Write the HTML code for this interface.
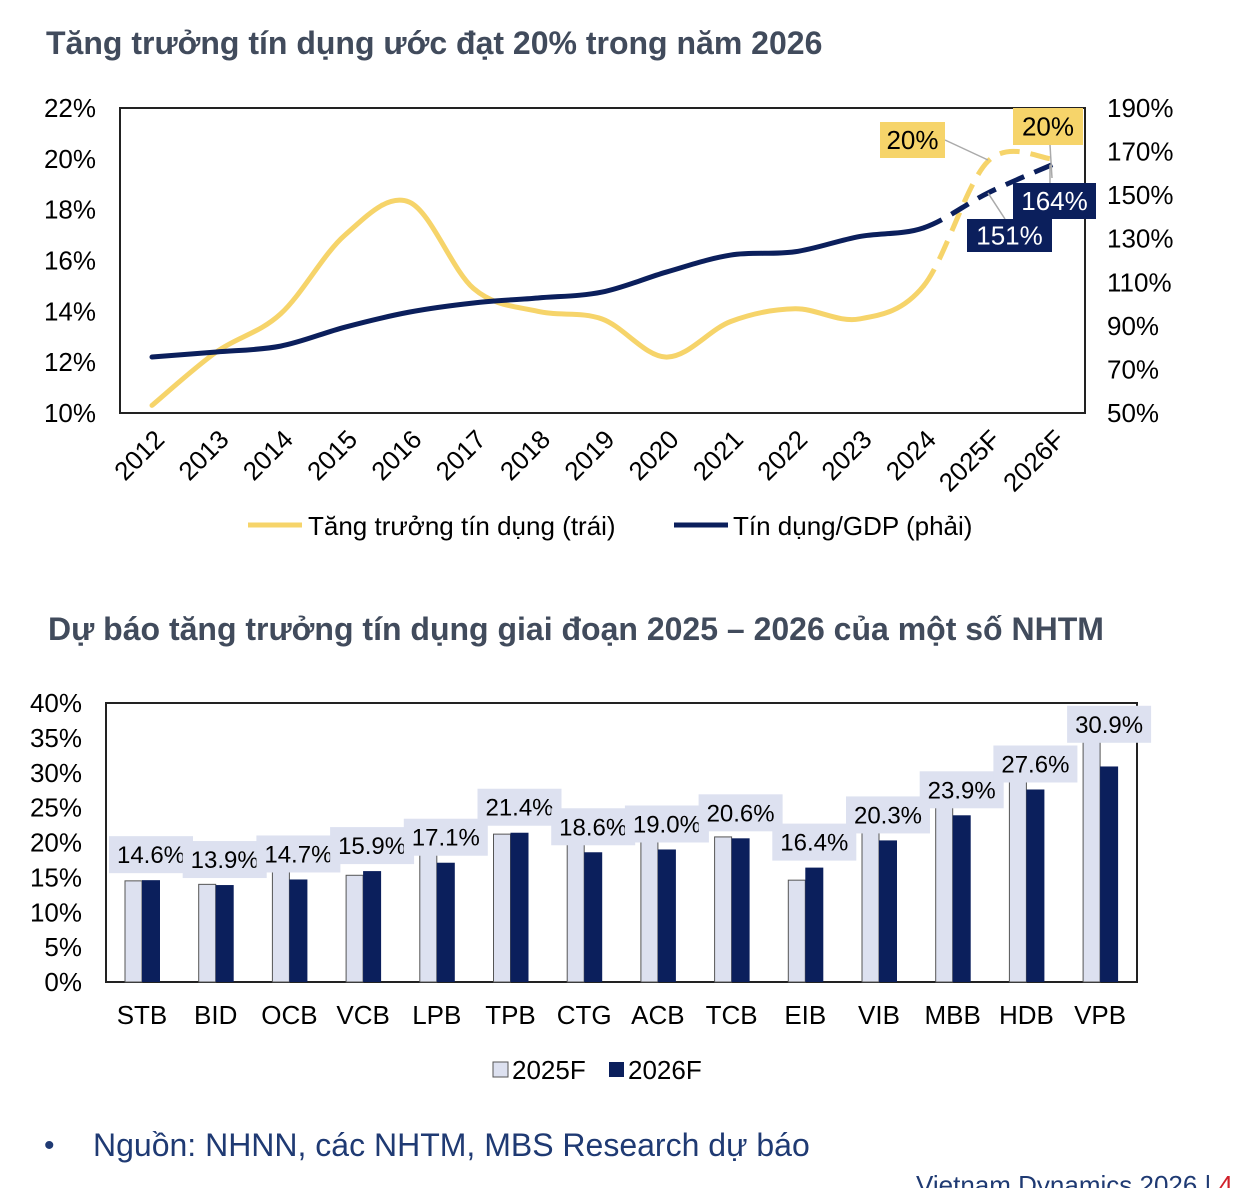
<!DOCTYPE html>
<html><head><meta charset="utf-8"><style>
body{margin:0;background:#fff;width:1240px;height:1188px;overflow:hidden;font-family:"Liberation Sans",sans-serif}
svg text{font-family:"Liberation Sans",sans-serif}
</style></head><body>
<svg id="s" width="1240" height="1188" xmlns="http://www.w3.org/2000/svg">
<text x="46" y="54" font-size="32" font-weight="bold" fill="#414b5c">Tăng trưởng tín dụng ước đạt 20% trong năm 2026</text>
<rect x="120" y="108" width="965" height="305" fill="none" stroke="#222" stroke-width="2"/>
<g id="topc"></g>
<text x="48" y="640" font-size="32" font-weight="bold" fill="#414b5c">Dự báo tăng trưởng tín dụng giai đoạn 2025 – 2026 của một số NHTM</text>
<g id="botc"></g>
<text x="44" y="1155" font-size="30" fill="#1f3a73">•</text>
<text x="93" y="1156" font-size="32" fill="#1f3a73">Nguồn: NHNN, các NHTM, MBS Research dự báo</text>
<text x="1233" y="1194" font-size="26" fill="#1f3a73" text-anchor="end">Vietnam Dynamics 2026 | <tspan fill="#d0202a">4</tspan></text>
</svg>
<script>
const years=["2012","2013","2014","2015","2016","2017","2018","2019","2020","2021","2022","2023","2024","2025F","2026F"];
const creditGrowth=[10.3,12.4,13.9,17.0,18.3,14.9,14.0,13.7,12.2,13.6,14.1,13.7,15.0,19.9,20.0];
const creditGDP=[75.7,78,80.7,89.4,96.3,100.5,102.8,105.5,114.7,122.5,124,131,135,151,164];
const leftTicks=[10,12,14,16,18,20,22];
const rightTicks=[50,70,90,110,130,150,170,190];
const banks=["STB","BID","OCB","VCB","LPB","TPB","CTG","ACB","TCB","EIB","VIB","MBB","HDB","VPB"];
const f2025=[14.5,14.0,16.5,15.3,18.5,21.2,20.5,20.5,20.8,14.6,21.5,25.5,29.0,35.3];
const f2026=[14.6,13.9,14.7,15.9,17.1,21.4,18.6,19.0,20.6,16.4,20.3,23.9,27.6,30.9];
const botTicks=[0,5,10,15,20,25,30,35,40];

const NS="http://www.w3.org/2000/svg";
function mk(p,t,a,txt){const e=document.createElementNS(NS,t);for(const k in a)e.setAttribute(k,a[k]);if(txt!==undefined)e.textContent=txt;p.appendChild(e);return e;}
const tg=document.getElementById('topc'),bg=document.getElementById('botc');
const xT=i=>152+i*64.3, yL=v=>413-(v-10)*305/12, yR=v=>413-(v-50)*305/140;
leftTicks.forEach(v=>{const t=mk(tg,'text',{x:96,y:yL(v)+9,'font-size':26,'text-anchor':'end',fill:'#000'},v+'%');
});
rightTicks.forEach(v=>{const t=mk(tg,'text',{x:1107,y:yR(v)+9,'font-size':26,fill:'#000'},v+'%');
});
years.forEach((y,i)=>{const t=mk(tg,'text',{x:0,y:0,'font-size':26,'text-anchor':'end',transform:`translate(${xT(i)+14},${441}) rotate(-45)`},y);
});
function path(pts){let d=`M${pts[0][0]},${pts[0][1]}`;for(let i=0;i<pts.length-1;i++){const p0=pts[Math.max(0,i-1)],p1=pts[i],p2=pts[i+1],p3=pts[Math.min(pts.length-1,i+2)];
d+=` C${p1[0]+(p2[0]-p0[0])/6},${p1[1]+(p2[1]-p0[1])/6} ${p2[0]-(p3[0]-p1[0])/6},${p2[1]-(p3[1]-p1[1])/6} ${p2[0]},${p2[1]}`;}return d;}
function series(vals,yf,col,name){const pts=vals.map((v,i)=>[xT(i),yf(v)]);
const full=path(pts);const segs=full.split(' C');
const a=mk(tg,'path',{d:segs.slice(0,13).join(' C'),fill:'none',stroke:col,'stroke-width':5,'stroke-linecap':'round'});

const b=mk(tg,'path',{d:'M'+pts[12][0]+','+pts[12][1]+' C'+segs.slice(13).join(' C'),fill:'none',stroke:col,'stroke-width':5,'stroke-dasharray':'20 11'});
return pts;}
series(creditGrowth,yL,'#f6d46a','credit-growth-line');
series(creditGDP,yR,'#0b1f5c','credit-gdp-line');
function ann(x,y,w,h,bgc,fg,txt,lx,ly,px,py,name){mk(tg,'polyline',{points:`${lx},${ly} ${px},${py}`,fill:'none',stroke:'#aaa','stroke-width':1.5});
const r=mk(tg,'rect',{x,y,width:w,height:h,fill:bgc});
mk(tg,'text',{x:x+w/2,y:y+h/2+9,'font-size':26,'text-anchor':'middle',fill:fg},txt);}
ann(880,122,65,36,'#f6d46a','#000',Math.round(creditGrowth[13])+'%',945,140,988,160,'label-growth-2025');
ann(1013,108,70,37,'#f6d46a','#000',Math.round(creditGrowth[14])+'%',1050,145,1052,178,'label-growth-2026');
ann(967,219,85,33,'#0b1f5c','#fff',creditGDP[13]+'%',1005,219,988,yR(creditGDP[13]),'label-gdp-2025');
ann(1013,183,83,36,'#0b1f5c','#fff',creditGDP[14]+'%',1050,183,1050,yR(creditGDP[14]),'label-gdp-2026');
let l=mk(tg,'line',{x1:248,y1:525,x2:302,y2:525,stroke:'#f6d46a','stroke-width':5});


mk(tg,'text',{x:308,y:535,'font-size':26},'Tăng trưởng tín dụng (trái)');
l=mk(tg,'line',{x1:674,y1:525,x2:728,y2:525,stroke:'#0b1f5c','stroke-width':5});


mk(tg,'text',{x:733,y:535,'font-size':26},'Tín dụng/GDP (phải)');

const yB=v=>982-v*279/40, xB=i=>142+i*73.7;
const fr=mk(bg,'rect',{x:106,y:703,width:1031,height:279,fill:'none',stroke:'#222','stroke-width':2});


botTicks.forEach(v=>{const t=mk(bg,'text',{x:82,y:yB(v)+9,'font-size':26,'text-anchor':'end'},v+'%');
});
banks.forEach((b,i)=>{const cx=xB(i);
const r1=mk(bg,'rect',{x:cx-17,y:yB(f2025[i]),width:17,height:982-yB(f2025[i]),fill:'#dde1f0',stroke:'#555','stroke-width':1});


const r2=mk(bg,'rect',{x:cx,y:yB(f2026[i]),width:18,height:982-yB(f2026[i]),fill:'#0b1f5c'});


const top2=Math.min(yB(f2026[i]),yB(f2025[i])+14);
const by=top2-44;
const bx=mk(bg,'rect',{x:cx-33,y:by,width:84,height:37,fill:'#dde1f0'});


mk(bg,'text',{x:cx+9,y:by+27,'font-size':24,'text-anchor':'middle'},f2026[i].toFixed(1)+'%');
const t=mk(bg,'text',{x:cx,y:1024,'font-size':26,'text-anchor':'middle'},b);

});
let s=mk(bg,'rect',{x:493,y:1062,width:15,height:15,fill:'#dde1f0',stroke:'#555'});


mk(bg,'text',{x:512,y:1079,'font-size':26},'2025F');
s=mk(bg,'rect',{x:609,y:1062,width:15,height:15,fill:'#0b1f5c'});


mk(bg,'text',{x:628,y:1079,'font-size':26},'2026F');
</script>
</body></html>
